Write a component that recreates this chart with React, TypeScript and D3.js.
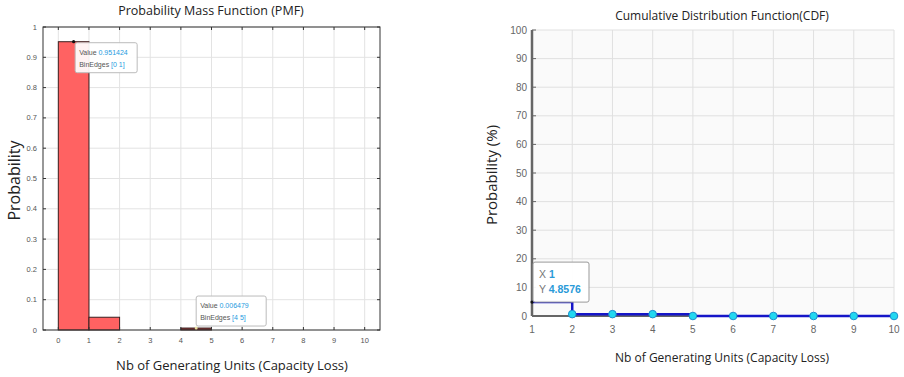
import React from "react";
import * as d3 from "d3";

// PMF histogram: left bin edges and probabilities
const pmfEdges = [0, 1, 2, 3, 4, 5, 6, 7, 8, 9];
const pmfValues = [0.951424, 0.042097, 0, 0, 0.006479, 0, 0, 0, 0, 0];
const pmfXTicks = [0, 1, 2, 3, 4, 5, 6, 7, 8, 9, 10];
const pmfYTicks = [0, 0.1, 0.2, 0.3, 0.4, 0.5, 0.6, 0.7, 0.8, 0.9, 1];

// CDF (exceedance, %)
const cdfX = [1, 2, 3, 4, 5, 6, 7, 8, 9, 10];
const cdfY = [4.8576, 0.6479, 0.6479, 0.6479, 0, 0, 0, 0, 0, 0];
const cdfYTicks = [0, 10, 20, 30, 40, 50, 60, 70, 80, 90, 100];

const titleFont = "'Open Sans', 'Noto Sans', sans-serif";
const tickFont = "'Liberation Sans', Arial, sans-serif";

function PmfChart() {
  const x = d3.scaleLinear().domain([-0.5, 10.5]).range([43, 380]);
  const y = d3.scaleLinear().domain([0, 1]).range([330, 27]);
  const [x0, x1] = x.range();
  const [yb, yt] = y.range();
  const fmt = (v: number) => (v === 0 || v === 1 ? String(v) : d3.format(".1f")(v));

  return (
    <g>
      <rect x={x0} y={yt} width={x1 - x0} height={yb - yt} fill="#fff" />
      {pmfXTicks.map((t) => (
        <line key={"gx" + t} x1={x(t)} x2={x(t)} y1={yt} y2={yb} stroke="#e3e3e3" />
      ))}
      {pmfYTicks.map((t) => (
        <line key={"gy" + t} x1={x0} x2={x1} y1={y(t)} y2={y(t)} stroke="#e3e3e3" />
      ))}
      {pmfEdges.map((e, i) =>
        pmfValues[i] > 0 ? (
          <rect
            key={"b" + i}
            x={x(e)}
            y={y(pmfValues[i])}
            width={x(e + 1) - x(e)}
            height={yb - y(pmfValues[i])}
            fill={i === 4 ? "#8f3434" : "#ff6262"}
            stroke="#3a2020"
            strokeWidth={1}
          />
        ) : null
      )}
      <rect x={x0} y={yt} width={x1 - x0} height={yb - yt} fill="none" stroke="#333" strokeWidth={1} />
      {pmfXTicks.map((t) => (
        <g key={"tx" + t}>
          <line x1={x(t)} x2={x(t)} y1={yb} y2={yb - 3} stroke="#333" />
          <line x1={x(t)} x2={x(t)} y1={yt} y2={yt + 3} stroke="#333" />
          <text x={x(t)} y={yb + 13} fontSize={7.5} fill="#555" textAnchor="middle" fontFamily={tickFont}>
            {t}
          </text>
        </g>
      ))}
      {pmfYTicks.map((t) => (
        <g key={"ty" + t}>
          <line x1={x0} x2={x0 + 3} y1={y(t)} y2={y(t)} stroke="#333" />
          <line x1={x1} x2={x1 - 3} y1={y(t)} y2={y(t)} stroke="#333" />
          <text x={x0 - 6} y={y(t) + 2.5} fontSize={7.5} fill="#555" textAnchor="end" fontFamily={tickFont}>
            {fmt(t)}
          </text>
        </g>
      ))}
      <text x={211} y={15} fontSize={12.5} fill="#222" textAnchor="middle" fontFamily={titleFont}>
        Probability Mass Function (PMF)
      </text>
      <text
        transform={`translate(20,${(yt + yb) / 2 + 2}) rotate(-90)`}
        fontSize={16}
        fill="#222"
        textAnchor="middle"
        fontFamily={titleFont}
      >
        Probability
      </text>
      <text x={232} y={370} fontSize={13} fill="#222" textAnchor="middle" fontFamily={titleFont}>
        Nb of Generating Units (Capacity Loss)
      </text>

      {/* datatip on bin [0 1] */}
      <circle cx={x(0.5) + 0} cy={y(pmfValues[0])} r={1.6} fill="#111" />
      <g transform={`translate(${x(0.55)},${y(pmfValues[0]) + 1})`}>
        <rect width={62} height={30} fill="#fff" fillOpacity={0.92} stroke="#bbb" rx={2} />
        <text x={4} y={12} fontSize={7} fontFamily={tickFont}>
          <tspan fill="#555">Value </tspan>
          <tspan fill="#1d9be0">{d3.format(".6f")(pmfValues[0])}</tspan>
        </text>
        <text x={4} y={24} fontSize={7} fontFamily={tickFont}>
          <tspan fill="#555">BinEdges </tspan>
          <tspan fill="#1d9be0">[0 1]</tspan>
        </text>
      </g>
      {/* datatip on bin [4 5] */}
      <circle cx={x(4.5)} cy={y(pmfValues[4])} r={1.5} fill="#e8e0a0" />
      <g transform={`translate(${x(4.5) + 0},${y(pmfValues[4]) - 32})`}>
        <rect width={70} height={30} fill="#fff" fillOpacity={0.92} stroke="#bbb" rx={2} />
        <text x={4} y={12} fontSize={7} fontFamily={tickFont}>
          <tspan fill="#555">Value </tspan>
          <tspan fill="#1d9be0">{d3.format(".6f")(pmfValues[4])}</tspan>
        </text>
        <text x={4} y={24} fontSize={7} fontFamily={tickFont}>
          <tspan fill="#555">BinEdges </tspan>
          <tspan fill="#1d9be0">[4 5]</tspan>
        </text>
      </g>
    </g>
  );
}

function CdfChart() {
  const x = d3.scaleLinear().domain([1, 10]).range([532, 894]);
  const y = d3.scaleLinear().domain([0, 100]).range([316, 30]);
  const [x0, x1] = x.range();
  const [yb, yt] = y.range();
  const pts = cdfX.map((v, i) => [v, cdfY[i]] as [number, number]);
  const line = d3
    .line<[number, number]>()
    .x((d) => x(d[0]))
    .y((d) => y(d[1]))
    .curve(d3.curveStepAfter);

  return (
    <g>
      <rect x={x0} y={yt} width={x1 - x0} height={yb - yt} fill="#fafafa" />
      {cdfX.map((t) => (
        <line key={"gx" + t} x1={x(t)} x2={x(t)} y1={yt} y2={yb} stroke="#e0e0e0" />
      ))}
      {cdfYTicks.map((t) => (
        <line key={"gy" + t} x1={x0} x2={x1} y1={y(t)} y2={y(t)} stroke="#e0e0e0" />
      ))}
      <line x1={x0} x2={x0} y1={yt} y2={yb} stroke="#666" strokeWidth={2.5} />
      <line x1={x0} x2={x1} y1={yb} y2={yb} stroke="#666" strokeWidth={2} />
      {cdfYTicks.map((t) => (
        <g key={"ty" + t}>
          <line x1={x0} x2={x0 + 4} y1={y(t)} y2={y(t)} stroke="#666" />
          <text x={x0 - 5} y={y(t) + 3.5} fontSize={10} fill="#666" textAnchor="end" fontFamily={tickFont}>
            {t}
          </text>
        </g>
      ))}
      {cdfX.map((t) => (
        <text key={"tx" + t} x={x(t)} y={yb + 17} fontSize={10} fill="#666" textAnchor="middle" fontFamily={tickFont}>
          {t}
        </text>
      ))}
      <path d={line(pts) ?? ""} fill="none" stroke="#1515c8" strokeWidth={2.5} />
      {pts.slice(1).map((d, i) => (
        <circle key={"m" + i} cx={x(d[0])} cy={y(d[1])} r={3.8} fill="#22d8f0" stroke="#1a8fd0" strokeWidth={1} />
      ))}
      <circle cx={x(pts[0][0])} cy={y(pts[0][1])} r={1.6} fill="#111" />
      <g transform={`translate(${x(pts[0][0]) + 1},${y(pts[0][1]) - 40})`}>
        <rect width={56} height={40} fill="#fff" fillOpacity={0.95} stroke="#999" rx={2} />
        <text x={6} y={16} fontSize={10.5} fontFamily={tickFont}>
          <tspan fill="#777">X </tspan>
          <tspan fill="#2a9ad8" fontWeight="bold">{pts[0][0]}</tspan>
        </text>
        <text x={6} y={31} fontSize={10.5} fontFamily={tickFont}>
          <tspan fill="#777">Y </tspan>
          <tspan fill="#2a9ad8" fontWeight="bold">{pts[0][1]}</tspan>
        </text>
      </g>
      <text x={722} y={20} fontSize={12} fill="#222" textAnchor="middle" fontFamily={titleFont}>
        Cumulative Distribution Function(CDF)
      </text>
      <text
        transform={`translate(497,${(yt + yb) / 2 + 2}) rotate(-90)`}
        fontSize={15}
        fill="#222"
        textAnchor="middle"
        fontFamily={titleFont}
      >
        Probability (%)
      </text>
      <text x={722} y={362} fontSize={12} fill="#222" textAnchor="middle" fontFamily={titleFont}>
        Nb of Generating Units (Capacity Loss)
      </text>
    </g>
  );
}

export default function App() {
  return (
    <svg
      width={904}
      height={377}
      style={{ position: "absolute", left: 0, top: 0, background: "#fff" }}
    >
      <PmfChart />
      <CdfChart />
    </svg>
  );
}
